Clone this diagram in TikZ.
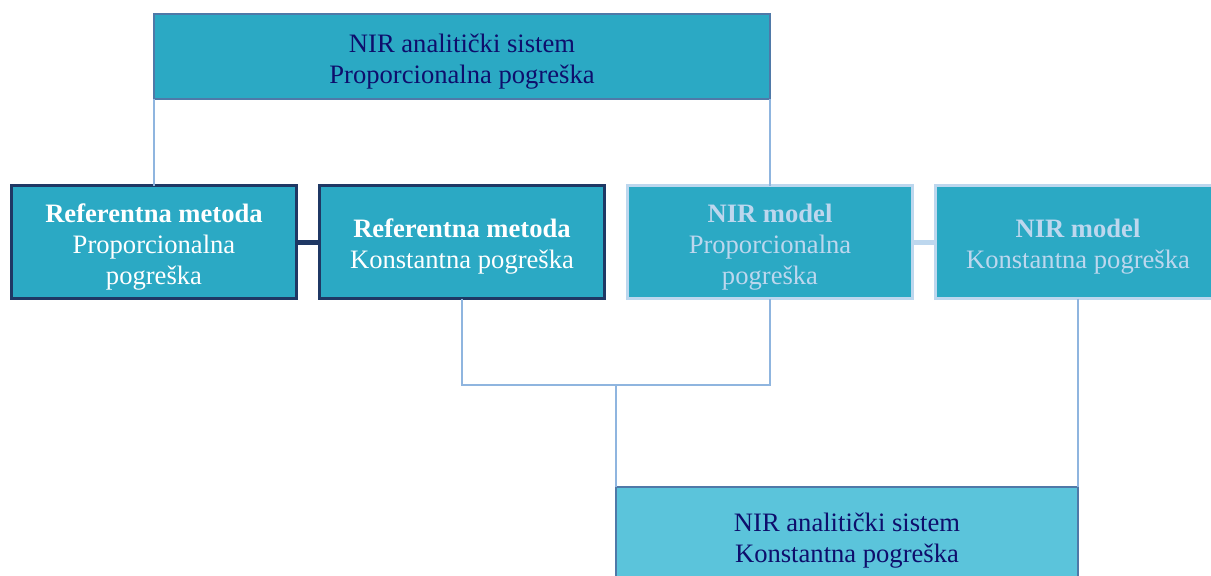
\documentclass[tikz,border=0pt]{standalone}
\usepackage{fontspec}
\setmainfont{Liberation Serif}
\usetikzlibrary{positioning}
\definecolor{boxfill}{HTML}{2BA9C4}
\definecolor{sysfill}{HTML}{5BC4DB}
\definecolor{navytext}{HTML}{0E0E6C}
\definecolor{sysline}{HTML}{4F79A8}
\definecolor{darkline}{HTML}{1F3864}
\definecolor{paleline}{HTML}{BDD7EE}
\definecolor{linkline}{HTML}{8FB5DF}
\newcommand{\topgap}{\rule{0pt}{28pt}}
\tikzset{
  base/.style={draw, fill=boxfill, inner sep=0pt, outer sep=0pt, align=center,
    font=\fontsize{26.6}{31}\selectfont},
  sysbox/.style={base, draw=sysline, line width=2pt, text=navytext,
    minimum width=616pt, minimum height=85pt},
  refbox/.style={base, draw=darkline, line width=3pt, text=white,
    minimum width=285pt, minimum height=113pt},
  nirbox/.style={base, draw=paleline, line width=3pt, text=paleline,
    minimum width=285pt, minimum height=113pt},
  link/.style={draw=linkline, line width=1.5pt}
}
\begin{document}
\begin{tikzpicture}[x=1pt, y=-1pt, node distance=23pt]
  \useasboundingbox (0,0) rectangle (1211,576);
  \node[sysbox] (top) at (462,56.5) {\topgap NIR analitički sistem\\Proporcionalna pogreška};
  \node[refbox] (ref1) at (154,242) {\topgap\textbf{Referentna metoda}\\Proporcionalna\\pogreška};
  \node[refbox, right=of ref1] (ref2) {\topgap\textbf{Referentna metoda}\\Konstantna pogreška};
  \node[nirbox, right=of ref2] (nir1) {\topgap\textbf{NIR model}\\Proporcionalna\\pogreška};
  \node[nirbox, right=of nir1] (nir2) {\topgap\textbf{NIR model}\\Konstantna pogreška};
  \node[sysbox, fill=sysfill, minimum width=462pt, minimum height=98pt] (bot) at (847,536)
    {\topgap NIR analitički sistem\\Konstantna pogreška};
  \coordinate (jn) at (616,385);
  \draw[link] (top.south west) -- (ref1.north);
  \draw[link] (top.south east) -- (nir1.north);
  \draw[link] (ref2.south) |- (jn) -| (nir1.south);
  \draw[link] (jn) -- (bot.north west);
  \draw[link] (nir2.south) -- (bot.north east);
  \draw[darkline, line width=5pt] (ref1) -- (ref2);
  \draw[paleline, line width=5pt] (nir1) -- (nir2);
\end{tikzpicture}
\end{document}
